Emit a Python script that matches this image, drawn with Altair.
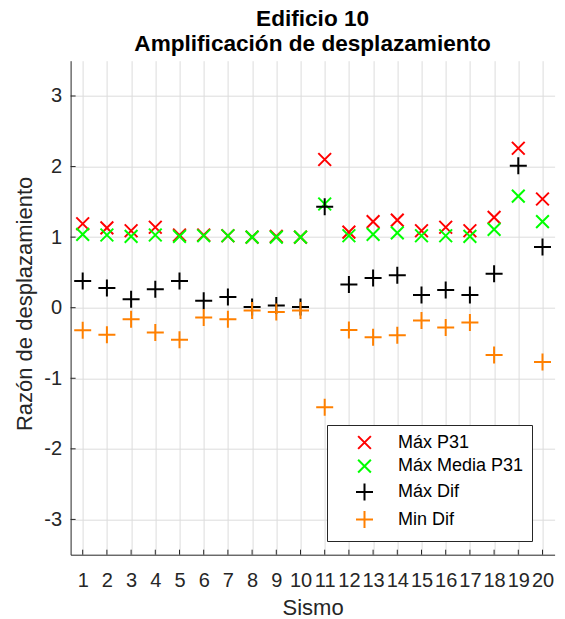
import altair as alt
import pandas as pd

# Displacement amplification ratios per earthquake record (Sismo 1-20)
sismo = list(range(1, 21))
max_p31 = [1.19, 1.13, 1.09, 1.14, 1.03, 1.03, 1.02, 1.00, 1.01, 1.00,
           2.10, 1.07, 1.22, 1.24, 1.09, 1.14, 1.09, 1.28, 2.26, 1.54]
max_media_p31 = [1.04, 1.03, 1.01, 1.03, 1.01, 1.02, 1.02, 1.00, 1.00, 1.00,
                 1.47, 1.02, 1.04, 1.06, 1.02, 1.02, 1.01, 1.11, 1.58, 1.22]
max_dif = [0.38, 0.28, 0.12, 0.26, 0.38, 0.10, 0.15, 0.01, 0.03, 0.01,
           1.43, 0.33, 0.42, 0.46, 0.18, 0.25, 0.18, 0.48, 2.01, 0.86]
min_dif = [-0.32, -0.385, -0.165, -0.35, -0.455, -0.14, -0.165, -0.04, -0.06, -0.04,
           -1.41, -0.315, -0.42, -0.39, -0.18, -0.28, -0.21, -0.67, None, -0.77]

series_names = ["Máx P31", "Máx Media P31", "Máx Dif", "Min Dif"]
series_values = [max_p31, max_media_p31, max_dif, min_dif]
series_colors = ["#ff0000", "#00ff00", "#000000", "#ff8000"]

x_ticks = list(range(1, 21))
y_ticks = [-3, -2, -1, 0, 1, 2, 3]

# marker outlines: diagonal cross and plus, both stroke-only
X_PATH = "M-0.75,-0.75L0.75,0.75M-0.75,0.75L0.75,-0.75"
PLUS_PATH = "M-1,0L1,0M0,-1L0,1"
series_shapes = [X_PATH, X_PATH, PLUS_PATH, PLUS_PATH]

rows = []
for order, (name, vals) in enumerate(zip(series_names, series_values)):
    for s, v in zip(sismo, vals):
        if v is not None:
            rows.append({"Sismo": s, "valor": v, "serie": name, "orden": order})
df = pd.DataFrame(rows)

FONT = "Liberation Sans"
AXIS_COLOR = "#262626"
W, H = 484, 494

x_scale = alt.Scale(domain=[0.5, 20.5], nice=False, zero=False)
y_scale = alt.Scale(domain=[-3.5, 3.5], nice=False, zero=False)

x_axis = alt.Axis(values=x_ticks, format="d", title="Sismo", grid=True,
                  ticks=False, tickSize=0, labelOverlap=False, labelBound=False,
                  labelFlush=False, labelPadding=32, labelBaseline="alphabetic",
                  titleY=59.4, titleBaseline="alphabetic")
y_axis = alt.Axis(values=y_ticks, title="Razón de desplazamiento", grid=True,
                  ticks=False, tickSize=0, labelPadding=9, labelOverlap=False,
                  labelExpr="datum.value < 0 ? '-' + abs(datum.value) : '' + datum.value",
                  titleX=-38.9, titleY=242.7, titleAngle=270,
                  titleBaseline="alphabetic", titleAlign="center")

points = alt.Chart(df).mark_point(filled=False, strokeWidth=2, size=289, opacity=1).encode(
    x=alt.X("Sismo:Q", scale=x_scale, axis=x_axis),
    y=alt.Y("valor:Q", scale=y_scale, axis=y_axis),
    color=alt.Color("serie:N", scale=alt.Scale(domain=series_names, range=series_colors),
                    sort=series_names,
                    legend=alt.Legend(title=None, orient="none", legendX=256.4, legendY=364.3)),
    shape=alt.Shape("serie:N", scale=alt.Scale(domain=series_names, range=series_shapes),
                    sort=series_names),
    order=alt.Order("orden:Q"),
)

# inward tick marks along the bottom and left axes
x_tick_df = pd.DataFrame({"t": x_ticks})
y_tick_df = pd.DataFrame({"t": y_ticks})
x_tick_marks = alt.Chart(x_tick_df).mark_rule(color=AXIS_COLOR, strokeWidth=1).encode(
    x=alt.X("t:Q", scale=x_scale, axis=x_axis), y=alt.value(H), y2=alt.value(H - 5))
y_tick_marks = alt.Chart(y_tick_df).mark_rule(color=AXIS_COLOR, strokeWidth=1).encode(
    y=alt.Y("t:Q", scale=y_scale, axis=y_axis), x=alt.value(0), x2=alt.value(5))

chart = alt.layer(points, x_tick_marks, y_tick_marks).properties(
    width=W, height=H,
    title=alt.TitleParams(["Edificio 10", "Amplificación de desplazamiento"],
                          font=FONT, fontSize=22.6, fontWeight="bold", color="#000000",
                          anchor="middle", lineHeight=25.3, offset=5),
    autosize=alt.AutoSizeParams(type="none"),
    padding={"left": 70.6, "top": 60.7, "right": 10.4, "bottom": 64.3},
).configure_view(stroke=None).configure_axis(
    labelFont=FONT, labelFontSize=20, labelColor=AXIS_COLOR,
    titleFont=FONT, titleFontSize=22, titleColor=AXIS_COLOR, titleFontWeight="normal",
    domainColor=AXIS_COLOR, domainWidth=1,
    gridColor="#dcdcdc", gridWidth=1, labelOverlap=False,
).configure_axisX(labelOverlap=False).configure_legend(
    labelFont=FONT, labelFontSize=18, labelColor="#000000",
    strokeColor=AXIS_COLOR, fillColor="#ffffff", padding=8,
    symbolSize=289, symbolStrokeWidth=2, rowPadding=2.7,
    symbolOffset=20, labelOffset=24, labelLimit=300,
)

chart.save("out.html", embed_options={"renderer": "svg", "actions": False})
